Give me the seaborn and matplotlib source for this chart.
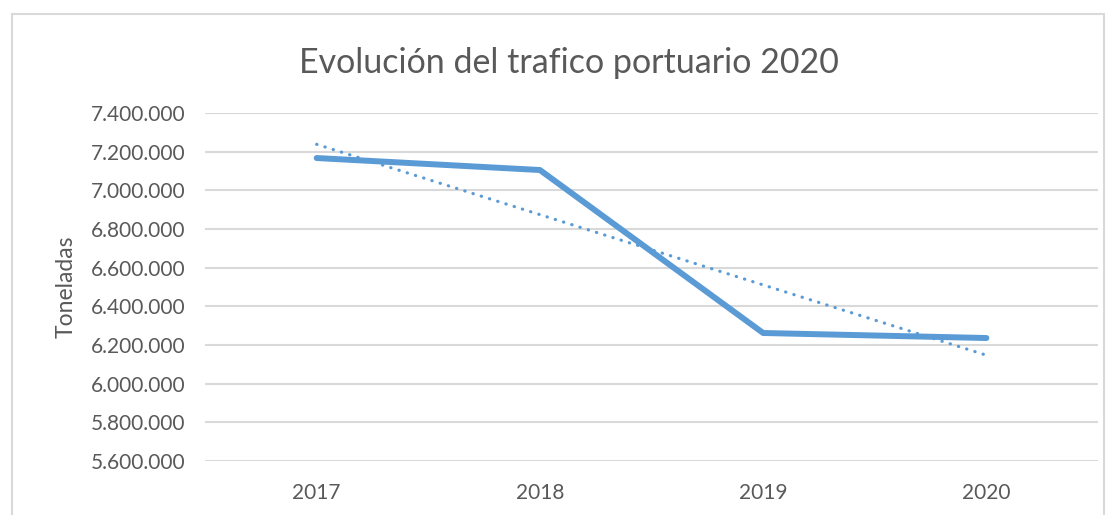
import numpy as np
import pandas as pd
import matplotlib
matplotlib.use('Agg')
import matplotlib.pyplot as plt
from matplotlib.ticker import FuncFormatter
from matplotlib.patches import Rectangle
import seaborn as sns

years = ['2017', '2018', '2019', '2020']
toneladas = [7167000, 7105000, 6262000, 6236000]
y_ticks = [5600000, 5800000, 6000000, 6200000, 6400000, 6600000, 6800000, 7000000, 7200000, 7400000]

df = pd.DataFrame({'year': years, 'pos': np.arange(len(years)), 'toneladas': toneladas})

sns.set_theme(style='white')
plt.rcParams['font.family'] = ['Lato', 'DejaVu Sans']
txt = '#595959'
blue = '#5B9BD5'

fig = plt.figure(figsize=(11.12, 5.15), dpi=100)
ax = fig.add_axes([0.1844, 0.1049, 0.8030, 0.6757])

sns.lineplot(data=df, x='pos', y='toneladas', ax=ax, color=blue, linewidth=4.3,
             solid_capstyle='round', solid_joinstyle='round')
# linear trendline like excel
sns.regplot(data=df, x='pos', y='toneladas', ax=ax, scatter=False, ci=None, color=blue,
            line_kws={'linestyle': (0, (0.1, 2.6)), 'linewidth': 2.3, 'dash_capstyle': 'round'})

ax.set_xlim(-0.5, len(years) - 0.5)
ax.set_ylim(y_ticks[0], y_ticks[-1])
ax.set_xticks(df['pos'])
ax.set_xticklabels(years)
ax.set_yticks(y_ticks)
ax.yaxis.set_major_formatter(FuncFormatter(lambda v, p: f"{v:,.0f}".replace(',', '.')))
ax.grid(axis='y', color='#d9d9d9', linewidth=1.5)
ax.grid(axis='x', visible=False)
for s in ax.spines.values():
    s.set_visible(False)
ax.tick_params(axis='y', length=0, pad=14, labelsize=15, labelcolor=txt)
ax.tick_params(axis='x', length=0, pad=16, labelsize=15, labelcolor=txt)
ax.set_xlabel('')
ax.set_ylabel('Toneladas', fontsize=16.5, color=txt, labelpad=10)

fig.text(0.512, 0.878, 'Evolución del trafico portuario 2020', ha='center', va='center',
         fontsize=24.5, color=txt)

fig.patches.append(Rectangle((12 / 1112, -0.05), (1104 - 12) / 1112, 1.05 - 14 / 515,
                             transform=fig.transFigure, fill=False, edgecolor='#d9d9d9',
                             linewidth=1.5))

fig.savefig('out.png', dpi=100, facecolor='white')
